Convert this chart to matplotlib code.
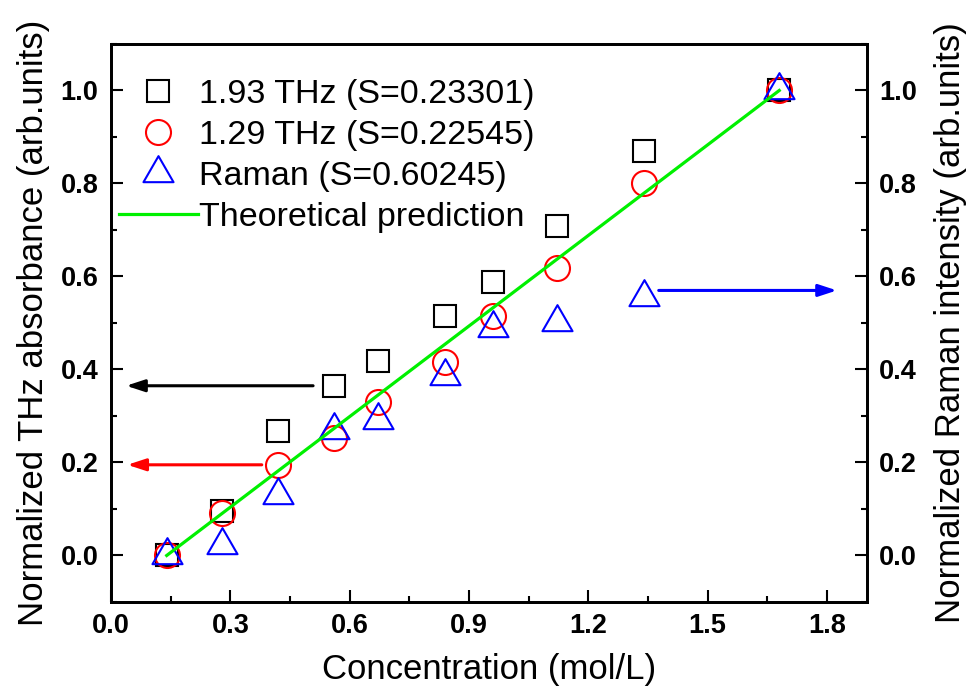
import matplotlib
matplotlib.use("Agg")
import matplotlib.pyplot as plt
from matplotlib.path import Path
from matplotlib.ticker import MultipleLocator

plt.rcParams['font.family'] = ['Liberation Sans', 'DejaVu Sans']

# ---- data ----
conc = [0.14, 0.28, 0.42, 0.56, 0.67, 0.84, 0.96, 1.12, 1.34, 1.68]
thz193 = [0.0, 0.096, 0.268, 0.365, 0.419, 0.516, 0.589, 0.709, 0.870, 1.0]
thz129 = [0.0, 0.091, 0.194, 0.252, 0.331, 0.417, 0.515, 0.618, 0.801, 1.0]
raman = [0.0, 0.023, 0.130, 0.269, 0.291, 0.385, 0.490, 0.503, 0.555, 1.0]
theory_x = [0.14, 1.68]
theory_y = [0.0, 1.0]
labels = ["1.93 THz (S=0.23301)", "1.29 THz (S=0.22545)", "Raman (S=0.60245)",
          "Theoretical prediction"]
xticks = [0.0, 0.3, 0.6, 0.9, 1.2, 1.5, 1.8]
yticks = [0.0, 0.2, 0.4, 0.6, 0.8, 1.0]
# arrows: (start_x, end_x, y, colour)
arrows = [(0.508, 0.038, 0.365, 'black'),
          (0.379, 0.041, 0.195, 'red'),
          (1.377, 1.825, 0.570, 'blue')]

fig = plt.figure(figsize=(9.68, 6.94), dpi=100)
ax = fig.add_axes([0.1147, 0.1326, 0.7807, 0.8040])

tri = Path([(0, 1), (-0.866, -0.5), (0.866, -0.5), (0, 1)],
           [Path.MOVETO, Path.LINETO, Path.LINETO, Path.CLOSEPOLY])

ax.plot(conc, thz193, linestyle='none', marker='s', markersize=15.5,
        markerfacecolor='none', markeredgecolor='black', markeredgewidth=1.5,
        label=labels[0])
ax.plot(conc, thz129, linestyle='none', marker='o', markersize=18,
        markerfacecolor='none', markeredgecolor='red', markeredgewidth=1.5,
        label=labels[1])
ax.plot(conc, raman, linestyle='none', marker=tri, markersize=25,
        markerfacecolor='none', markeredgecolor='blue', markeredgewidth=1.5,
        label=labels[2])
ax.plot(theory_x, theory_y, color='#00F000', linewidth=2.3, label=labels[3])

for x0, x1, y, c in arrows:
    ax.annotate('', xy=(x1, y), xytext=(x0, y),
                arrowprops=dict(arrowstyle='-|>,head_length=11,head_width=3.6',
                                mutation_scale=1, color=c, lw=2.2,
                                shrinkA=0, shrinkB=0))

ax.set_xlim(0, 1.9)
ax.set_ylim(-0.1, 1.1)
ax.set_xticks(xticks)
ax.set_yticks(yticks)
ax.xaxis.set_minor_locator(MultipleLocator(0.15))
ax.yaxis.set_minor_locator(MultipleLocator(0.1))
ax.set_xticklabels([f"{v:.1f}" for v in xticks], fontweight='bold', fontsize=19.5)
ax.set_yticklabels([f"{v:.1f}" for v in yticks], fontweight='bold', fontsize=19.5)
ax.tick_params(which='both', direction='in', width=1.5, top=False, right=False)
ax.tick_params(which='major', length=8.5)
ax.tick_params(which='minor', length=4.5)
ax.tick_params(axis='y', pad=9)
ax.tick_params(axis='x', pad=8)
for s in ax.spines.values():
    s.set_linewidth(2)

ax.set_xlabel("Concentration (mol/L)", fontsize=25, labelpad=10)
ax.set_ylabel("Normalized THz absorbance (arb.units)", fontsize=25, labelpad=8)

ax2 = ax.twinx()
ax2.set_ylim(-0.1, 1.1)
ax2.set_yticks(yticks)
ax2.yaxis.set_minor_locator(MultipleLocator(0.1))
ax2.set_yticklabels([f"{v:.1f}" for v in yticks], fontweight='bold', fontsize=19.5)
ax2.tick_params(which='both', direction='in', width=1.5)
ax2.tick_params(which='major', length=8.5)
ax2.tick_params(which='minor', length=4.5)
ax2.tick_params(axis='y', pad=9)
ax2.set_ylabel("Normalized Raman intensity (arb.units)", fontsize=25,
               rotation=90, labelpad=12)
for s in ax2.spines.values():
    s.set_linewidth(2)

ax.legend(loc='upper left', bbox_to_anchor=(0.011, 0.937), frameon=False,
          fontsize=24.5, borderpad=0, borderaxespad=0, handlelength=2.3,
          handletextpad=0.05, labelspacing=0.29)

fig.savefig("out.png", dpi=100)
